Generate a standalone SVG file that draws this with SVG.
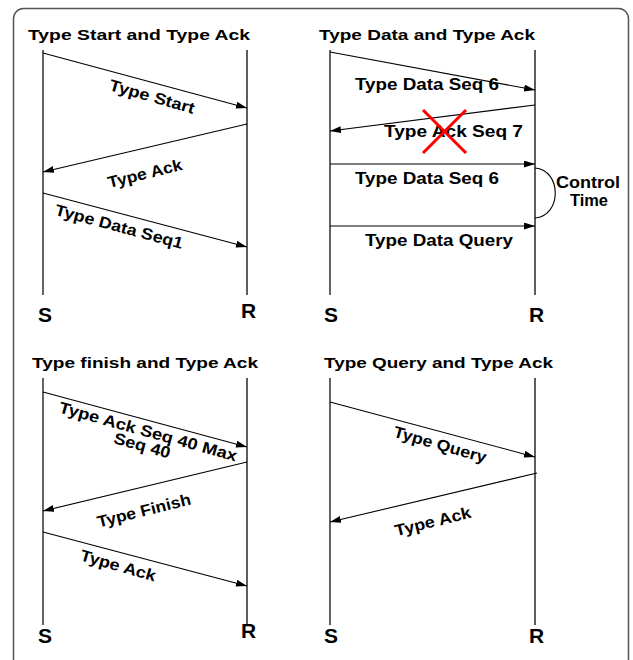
<svg xmlns="http://www.w3.org/2000/svg" width="633" height="660" viewBox="0 0 633 660">
<style>
text{font-family:"Liberation Sans",Arial,sans-serif;font-weight:bold;fill:#000}
.title{font-size:15.5px}
.lbl{font-size:16px}
.sr{font-size:21px}
.life-s{stroke:#222;stroke-width:1.4;fill:none}
.life-r{stroke:#555;stroke-width:1.9;fill:none}
.msg{stroke:#000;stroke-width:1.1;fill:none;marker-end:url(#ah)}
.frame{fill:#fff;stroke:#555;stroke-width:1.5}
.cross{stroke:#f00;stroke-width:3;fill:none}
</style>
<defs>
<marker id="ah" markerUnits="userSpaceOnUse" markerWidth="12" markerHeight="8" refX="11" refY="3.5" orient="auto">
<path d="M0,0 L11,3.5 L0,7 z" fill="#000"/>
</marker>
</defs>
<rect class="frame" x="13.5" y="8.5" width="615" height="690" rx="10"/>

<g id="panel1">
<text class="title" x="28" y="40" textLength="222" lengthAdjust="spacingAndGlyphs">Type Start and Type Ack</text>
<g id="p1-S"><line class="life-s" x1="43" y1="50" x2="43" y2="295"/><text class="sr" x="38" y="322">S</text></g>
<g id="p1-R"><line class="life-r" x1="247" y1="50" x2="247" y2="295"/><text class="sr" x="241" y="318">R</text></g>
</g>

<g id="panel2">
<text class="title" x="319" y="40" textLength="216" lengthAdjust="spacingAndGlyphs">Type Data and Type Ack</text>
<g id="p2-S"><line class="life-s" x1="330" y1="50" x2="330" y2="295"/><text class="sr" x="324" y="322">S</text></g>
<g id="p2-R"><line class="life-r" x1="535" y1="50" x2="535" y2="295"/><text class="sr" x="529" y="322">R</text></g>
</g>

<g id="panel3">
<text class="title" x="32" y="368" textLength="226" lengthAdjust="spacingAndGlyphs">Type finish and Type Ack</text>
<g id="p3-S"><line class="life-s" x1="43" y1="378" x2="43" y2="625"/><text class="sr" x="38" y="643">S</text></g>
<g id="p3-R"><line class="life-r" x1="247" y1="378" x2="247" y2="625"/><text class="sr" x="241" y="638">R</text></g>
</g>

<g id="panel4">
<text class="title" x="324" y="368" textLength="229" lengthAdjust="spacingAndGlyphs">Type Query and Type Ack</text>
<g id="p4-S"><line class="life-s" x1="330" y1="378" x2="330" y2="625"/><text class="sr" x="324" y="643">S</text></g>
<g id="p4-R"><line class="life-r" x1="535" y1="378" x2="535" y2="625"/><text class="sr" x="529" y="643">R</text></g>
</g>

<g id="connectors">
<line class="msg" x1="43" y1="53" x2="247" y2="108"/>
<line class="msg" x1="247" y1="124" x2="43" y2="172"/>
<line class="msg" x1="43" y1="193" x2="247" y2="247"/>
<line class="msg" x1="330" y1="52" x2="535" y2="90"/>
<line class="msg" x1="535" y1="105" x2="330" y2="131"/>
<line class="msg" x1="330" y1="164" x2="535" y2="164"/>
<line class="msg" x1="330" y1="226" x2="535" y2="226"/>
<path d="M535,168 C562,170 562,216 535,218" fill="none" stroke="#000" stroke-width="1.1"/>
<line class="msg" x1="43" y1="392" x2="247" y2="447"/>
<line class="msg" x1="247" y1="462" x2="43" y2="511"/>
<line class="msg" x1="43" y1="532" x2="247" y2="586"/>
<line class="msg" x1="330" y1="402" x2="535" y2="457"/>
<line class="msg" x1="537" y1="473" x2="330" y2="522"/>
</g>

<g id="labels">
<text class="lbl" text-anchor="middle" transform="translate(152,97) rotate(16)" y="5" textLength="88" lengthAdjust="spacingAndGlyphs">Type Start</text>
<text class="lbl" text-anchor="middle" transform="translate(145,174) rotate(-14)" y="5" textLength="76" lengthAdjust="spacingAndGlyphs">Type Ack</text>
<text class="lbl" text-anchor="middle" transform="translate(119,227) rotate(15)" y="5" textLength="132" lengthAdjust="spacingAndGlyphs">Type Data Seq1</text>

<text class="lbl" x="355" y="90" textLength="144" lengthAdjust="spacingAndGlyphs">Type Data Seq 6</text>
<text class="lbl" x="384" y="137" textLength="139" lengthAdjust="spacingAndGlyphs">Type Ack Seq 7</text>
<text class="lbl" x="355" y="184" textLength="144" lengthAdjust="spacingAndGlyphs">Type Data Seq 6</text>
<text class="lbl" x="365" y="246" textLength="148" lengthAdjust="spacingAndGlyphs">Type Data Query</text>
<text class="lbl" x="556" y="188" textLength="64" lengthAdjust="spacingAndGlyphs">Control</text>
<text class="lbl" x="570" y="206" textLength="38" lengthAdjust="spacingAndGlyphs">Time</text>

<text class="lbl" text-anchor="middle" transform="translate(148,432) rotate(15.5)" y="5" textLength="184" lengthAdjust="spacingAndGlyphs">Type Ack Seq 40 Max</text>
<text class="lbl" text-anchor="middle" transform="translate(148,432) rotate(15.5)" x="-2" y="20" textLength="58" lengthAdjust="spacingAndGlyphs">Seq 40</text>
<text class="lbl" text-anchor="middle" transform="translate(144,511) rotate(-14)" y="5" textLength="96" lengthAdjust="spacingAndGlyphs">Type Finish</text>
<text class="lbl" text-anchor="middle" transform="translate(118,566) rotate(16)" y="5" textLength="78" lengthAdjust="spacingAndGlyphs">Type Ack</text>

<text class="lbl" text-anchor="middle" transform="translate(440,445) rotate(16)" y="5" textLength="96" lengthAdjust="spacingAndGlyphs">Type Query</text>
<text class="lbl" text-anchor="middle" transform="translate(433,522) rotate(-14)" y="5" textLength="78" lengthAdjust="spacingAndGlyphs">Type Ack</text>
</g>

<g id="lost-mark">
<line class="cross" x1="423" y1="110" x2="466" y2="153"/>
<line class="cross" x1="466" y1="110" x2="423" y2="153"/>
</g>
</svg>
